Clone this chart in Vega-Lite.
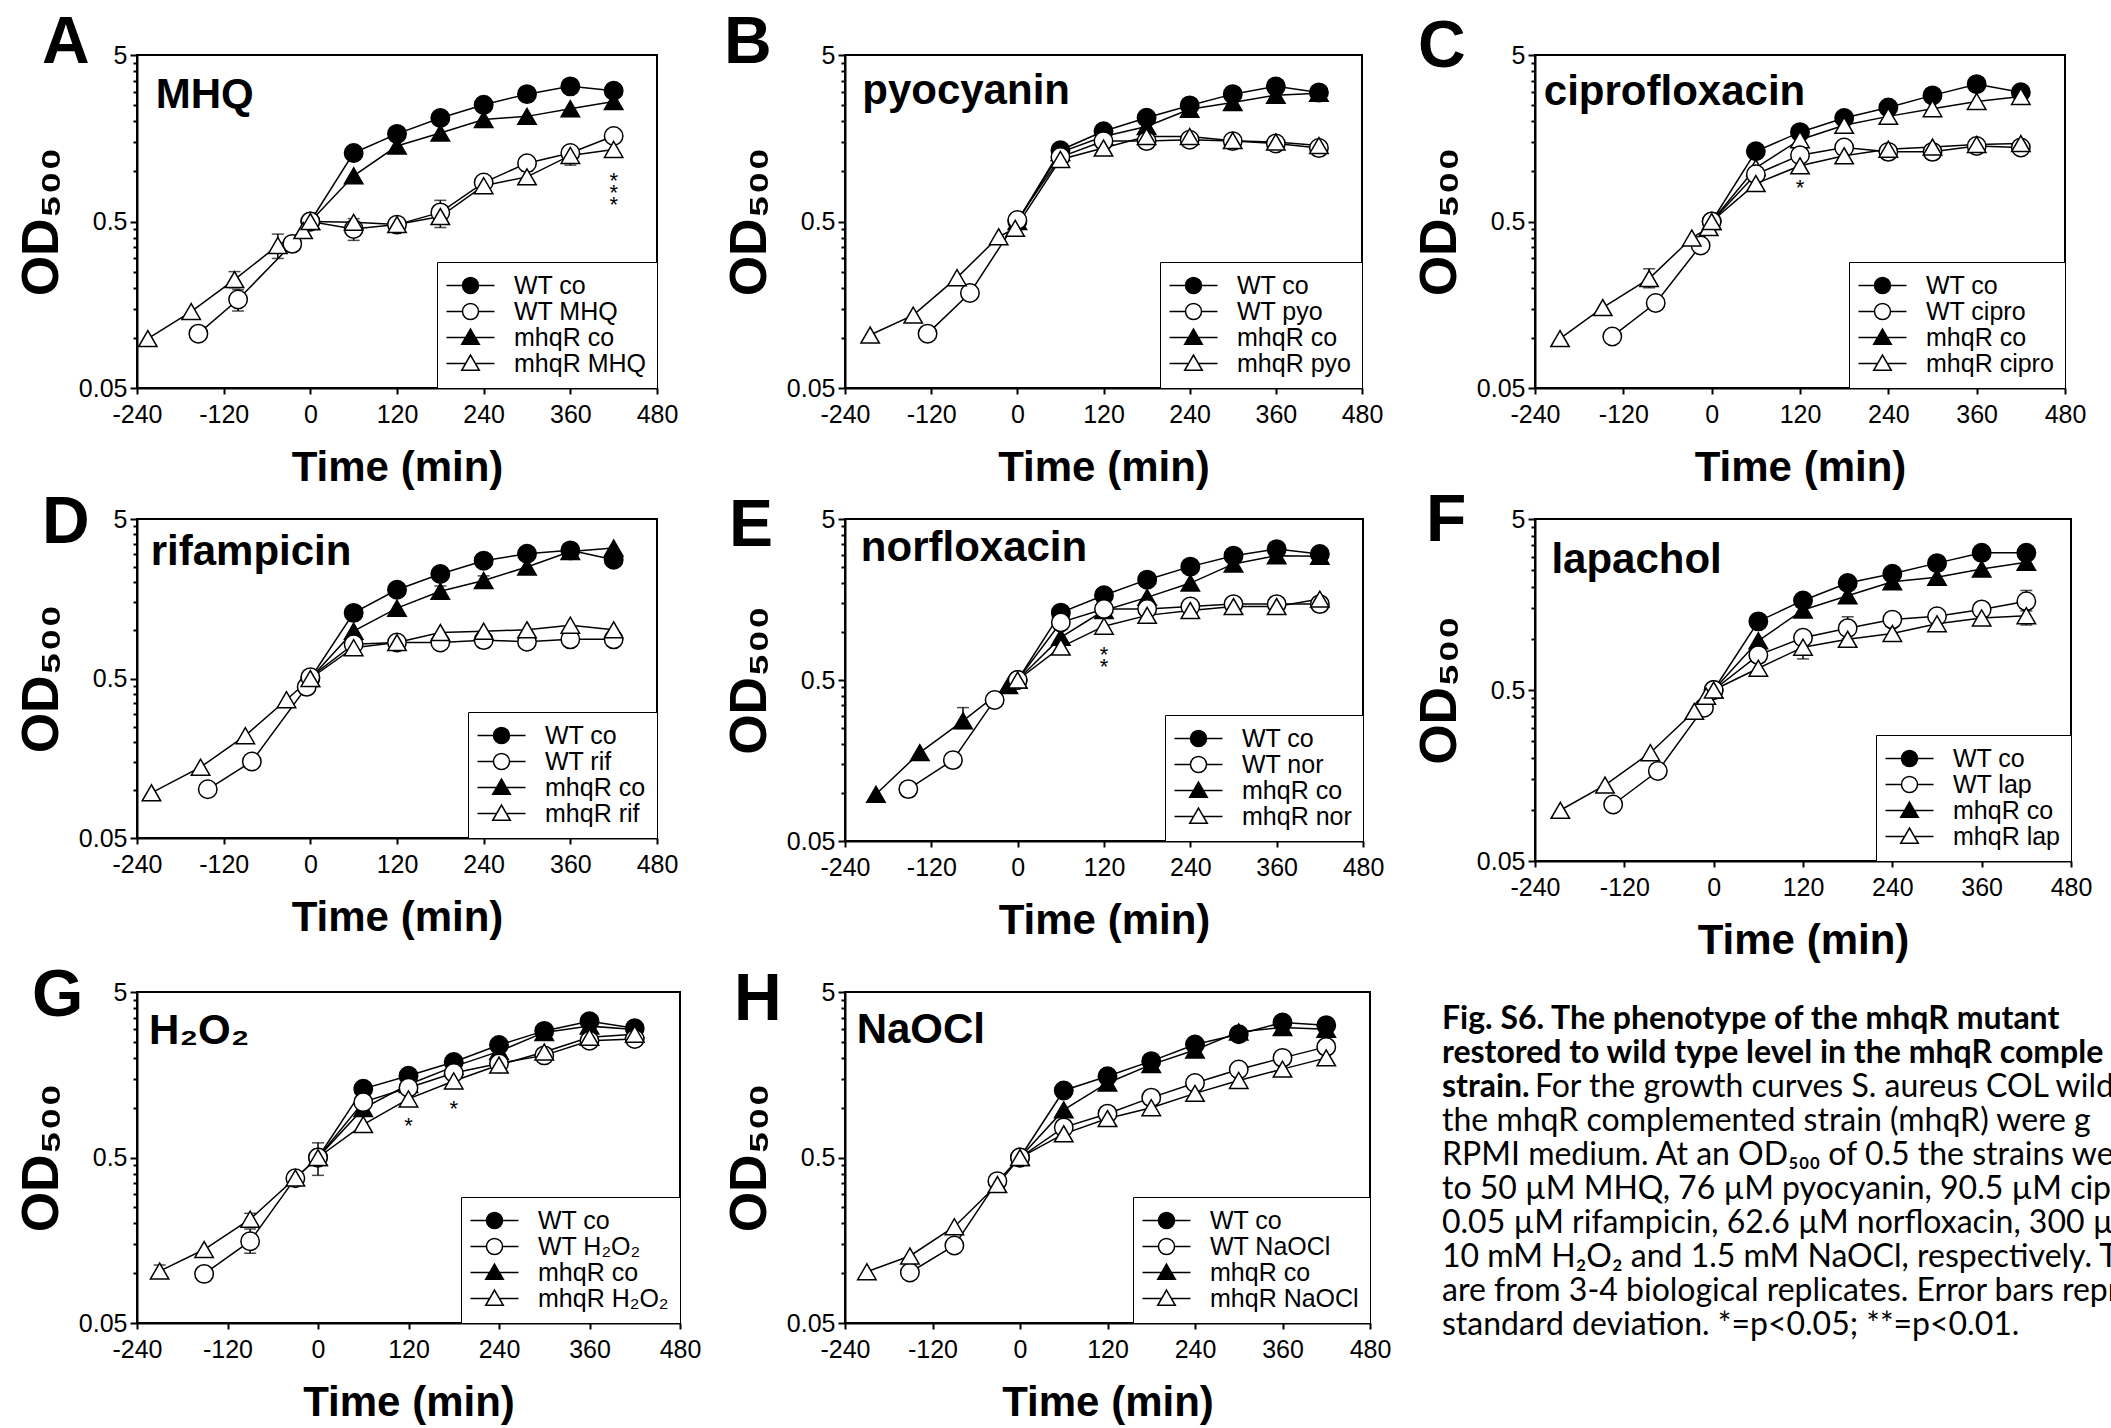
{
"$schema": "https://vega.github.io/schema/vega-lite/v6.json",
"background": "white",
"padding": {"left": 14, "top": 9, "right": 5, "bottom": 5},
"datasets": {
"curves": [
{"p":"A","s":"WT co","t":0,"od":0.5},{"p":"A","s":"WT co","t":60,"od":1.29},{"p":"A","s":"WT co","t":120,"od":1.68},{"p":"A","s":"WT co","t":180,"od":2.09},{"p":"A","s":"WT co","t":240,"od":2.51},{"p":"A","s":"WT co","t":300,"od":2.91},{"p":"A","s":"WT co","t":360,"od":3.24},{"p":"A","s":"WT co","t":420,"od":3.05},
{"p":"A","s":"mhqR co","t":0,"od":0.5},{"p":"A","s":"mhqR co","t":60,"od":0.94},{"p":"A","s":"mhqR co","t":120,"od":1.42},{"p":"A","s":"mhqR co","t":180,"od":1.70},{"p":"A","s":"mhqR co","t":240,"od":2.05},{"p":"A","s":"mhqR co","t":300,"od":2.14},{"p":"A","s":"mhqR co","t":360,"od":2.38},{"p":"A","s":"mhqR co","t":420,"od":2.63},
{"p":"A","s":"WT MHQ","t":-155,"od":0.106},{"p":"A","s":"WT MHQ","t":-100,"od":0.17},{"p":"A","s":"WT MHQ","t":-25,"od":0.367},{"p":"A","s":"WT MHQ","t":0,"od":0.5},{"p":"A","s":"WT MHQ","t":60,"od":0.451},{"p":"A","s":"WT MHQ","t":120,"od":0.479},{"p":"A","s":"WT MHQ","t":180,"od":0.567},{"p":"A","s":"WT MHQ","t":240,"od":0.857},{"p":"A","s":"WT MHQ","t":300,"od":1.12},{"p":"A","s":"WT MHQ","t":360,"od":1.29},{"p":"A","s":"WT MHQ","t":420,"od":1.63},
{"p":"A","s":"mhqR MHQ","t":-225,"od":0.099},{"p":"A","s":"mhqR MHQ","t":-165,"od":0.144},{"p":"A","s":"mhqR MHQ","t":-105,"od":0.224},{"p":"A","s":"mhqR MHQ","t":-45,"od":0.359},{"p":"A","s":"mhqR MHQ","t":-10,"od":0.441},{"p":"A","s":"mhqR MHQ","t":0,"od":0.5},{"p":"A","s":"mhqR MHQ","t":60,"od":0.494},{"p":"A","s":"mhqR MHQ","t":120,"od":0.479},{"p":"A","s":"mhqR MHQ","t":180,"od":0.535},{"p":"A","s":"mhqR MHQ","t":240,"od":0.82},{"p":"A","s":"mhqR MHQ","t":300,"od":0.927},{"p":"A","s":"mhqR MHQ","t":360,"od":1.247},{"p":"A","s":"mhqR MHQ","t":420,"od":1.355},

{"p":"B","s":"WT co","t":0,"od":0.5},{"p":"B","s":"WT co","t":60,"od":1.34},{"p":"B","s":"WT co","t":120,"od":1.74},{"p":"B","s":"WT co","t":180,"od":2.10},{"p":"B","s":"WT co","t":240,"od":2.49},{"p":"B","s":"WT co","t":300,"od":2.91},{"p":"B","s":"WT co","t":360,"od":3.24},{"p":"B","s":"WT co","t":420,"od":2.98},
{"p":"B","s":"mhqR co","t":0,"od":0.5},{"p":"B","s":"mhqR co","t":60,"od":1.30},{"p":"B","s":"mhqR co","t":120,"od":1.62},{"p":"B","s":"mhqR co","t":180,"od":1.86},{"p":"B","s":"mhqR co","t":240,"od":2.36},{"p":"B","s":"mhqR co","t":300,"od":2.59},{"p":"B","s":"mhqR co","t":360,"od":2.87},{"p":"B","s":"mhqR co","t":420,"od":2.95},
{"p":"B","s":"WT pyo","t":-125,"od":0.106},{"p":"B","s":"WT pyo","t":-66,"od":0.186},{"p":"B","s":"WT pyo","t":0,"od":0.51},{"p":"B","s":"WT pyo","t":60,"od":1.22},{"p":"B","s":"WT pyo","t":120,"od":1.52},{"p":"B","s":"WT pyo","t":180,"od":1.52},{"p":"B","s":"WT pyo","t":240,"od":1.55},{"p":"B","s":"WT pyo","t":300,"od":1.52},{"p":"B","s":"WT pyo","t":360,"od":1.47},{"p":"B","s":"WT pyo","t":420,"od":1.38},
{"p":"B","s":"mhqR pyo","t":-205,"od":0.104},{"p":"B","s":"mhqR pyo","t":-145,"od":0.137},{"p":"B","s":"mhqR pyo","t":-84,"od":0.23},{"p":"B","s":"mhqR pyo","t":-26,"od":0.405},{"p":"B","s":"mhqR pyo","t":-3,"od":0.455},{"p":"B","s":"mhqR pyo","t":60,"od":1.18},{"p":"B","s":"mhqR pyo","t":120,"od":1.38},{"p":"B","s":"mhqR pyo","t":180,"od":1.62},{"p":"B","s":"mhqR pyo","t":240,"od":1.62},{"p":"B","s":"mhqR pyo","t":300,"od":1.53},{"p":"B","s":"mhqR pyo","t":360,"od":1.50},{"p":"B","s":"mhqR pyo","t":420,"od":1.43},

{"p":"C","s":"WT co","t":0,"od":0.5},{"p":"C","s":"WT co","t":60,"od":1.32},{"p":"C","s":"WT co","t":120,"od":1.72},{"p":"C","s":"WT co","t":180,"od":2.09},{"p":"C","s":"WT co","t":240,"od":2.42},{"p":"C","s":"WT co","t":300,"od":2.86},{"p":"C","s":"WT co","t":360,"od":3.34},{"p":"C","s":"WT co","t":420,"od":2.99},
{"p":"C","s":"mhqR co","t":0,"od":0.5},{"p":"C","s":"mhqR co","t":60,"od":1.05},{"p":"C","s":"mhqR co","t":120,"od":1.55},{"p":"C","s":"mhqR co","t":180,"od":1.89},{"p":"C","s":"mhqR co","t":240,"od":2.14},{"p":"C","s":"mhqR co","t":300,"od":2.38},{"p":"C","s":"mhqR co","t":360,"od":2.63},{"p":"C","s":"mhqR co","t":420,"od":2.82},
{"p":"C","s":"WT cipro","t":-135,"od":0.102},{"p":"C","s":"WT cipro","t":-76,"od":0.162},{"p":"C","s":"WT cipro","t":-15,"od":0.359},{"p":"C","s":"WT cipro","t":0,"od":0.5},{"p":"C","s":"WT cipro","t":60,"od":0.96},{"p":"C","s":"WT cipro","t":120,"od":1.25},{"p":"C","s":"WT cipro","t":180,"od":1.39},{"p":"C","s":"WT cipro","t":240,"od":1.31},{"p":"C","s":"WT cipro","t":300,"od":1.31},{"p":"C","s":"WT cipro","t":360,"od":1.42},{"p":"C","s":"WT cipro","t":420,"od":1.39},
{"p":"C","s":"mhqR cipro","t":-206,"od":0.099},{"p":"C","s":"mhqR cipro","t":-148,"od":0.152},{"p":"C","s":"mhqR cipro","t":-85,"od":0.227},{"p":"C","s":"mhqR cipro","t":-27,"od":0.398},{"p":"C","s":"mhqR cipro","t":-4,"od":0.46},{"p":"C","s":"mhqR cipro","t":0,"od":0.5},{"p":"C","s":"mhqR cipro","t":60,"od":0.845},{"p":"C","s":"mhqR cipro","t":120,"od":1.08},{"p":"C","s":"mhqR cipro","t":180,"od":1.24},{"p":"C","s":"mhqR cipro","t":240,"od":1.36},{"p":"C","s":"mhqR cipro","t":300,"od":1.40},{"p":"C","s":"mhqR cipro","t":360,"od":1.45},{"p":"C","s":"mhqR cipro","t":420,"od":1.47},

{"p":"D","s":"WT co","t":0,"od":0.5},{"p":"D","s":"WT co","t":60,"od":1.29},{"p":"D","s":"WT co","t":120,"od":1.80},{"p":"D","s":"WT co","t":180,"od":2.26},{"p":"D","s":"WT co","t":240,"od":2.74},{"p":"D","s":"WT co","t":300,"od":3.03},{"p":"D","s":"WT co","t":360,"od":3.18},{"p":"D","s":"WT co","t":420,"od":2.78},
{"p":"D","s":"mhqR co","t":0,"od":0.5},{"p":"D","s":"mhqR co","t":60,"od":0.99},{"p":"D","s":"mhqR co","t":120,"od":1.38},{"p":"D","s":"mhqR co","t":180,"od":1.76},{"p":"D","s":"mhqR co","t":240,"od":2.06},{"p":"D","s":"mhqR co","t":300,"od":2.5},{"p":"D","s":"mhqR co","t":360,"od":3.13},{"p":"D","s":"mhqR co","t":420,"od":3.29},
{"p":"D","s":"WT rif","t":-142,"od":0.101},{"p":"D","s":"WT rif","t":-81,"od":0.151},{"p":"D","s":"WT rif","t":-5,"od":0.443},{"p":"D","s":"WT rif","t":0,"od":0.51},{"p":"D","s":"WT rif","t":60,"od":0.82},{"p":"D","s":"WT rif","t":120,"od":0.84},{"p":"D","s":"WT rif","t":180,"od":0.84},{"p":"D","s":"WT rif","t":240,"od":0.87},{"p":"D","s":"WT rif","t":300,"od":0.85},{"p":"D","s":"WT rif","t":360,"od":0.88},{"p":"D","s":"WT rif","t":420,"od":0.88},
{"p":"D","s":"mhqR rif","t":-220,"od":0.096},{"p":"D","s":"mhqR rif","t":-152,"od":0.139},{"p":"D","s":"mhqR rif","t":-90,"od":0.219},{"p":"D","s":"mhqR rif","t":-33,"od":0.368},{"p":"D","s":"mhqR rif","t":0,"od":0.5},{"p":"D","s":"mhqR rif","t":60,"od":0.78},{"p":"D","s":"mhqR rif","t":120,"od":0.84},{"p":"D","s":"mhqR rif","t":180,"od":0.97},{"p":"D","s":"mhqR rif","t":240,"od":0.99},{"p":"D","s":"mhqR rif","t":300,"od":1.01},{"p":"D","s":"mhqR rif","t":360,"od":1.08},{"p":"D","s":"mhqR rif","t":420,"od":1.01},

{"p":"E","s":"WT co","t":0,"od":0.5},{"p":"E","s":"WT co","t":60,"od":1.31},{"p":"E","s":"WT co","t":120,"od":1.68},{"p":"E","s":"WT co","t":180,"od":2.10},{"p":"E","s":"WT co","t":240,"od":2.53},{"p":"E","s":"WT co","t":300,"od":2.96},{"p":"E","s":"WT co","t":360,"od":3.25},{"p":"E","s":"WT co","t":420,"od":3.03},
{"p":"E","s":"mhqR co","t":-197,"od":0.0975},{"p":"E","s":"mhqR co","t":-136,"od":0.177},{"p":"E","s":"mhqR co","t":-76,"od":0.279},{"p":"E","s":"mhqR co","t":-13,"od":0.462},{"p":"E","s":"mhqR co","t":0,"od":0.5},{"p":"E","s":"mhqR co","t":60,"od":0.92},{"p":"E","s":"mhqR co","t":120,"od":1.35},{"p":"E","s":"mhqR co","t":180,"od":1.63},{"p":"E","s":"mhqR co","t":240,"od":2.0},{"p":"E","s":"mhqR co","t":300,"od":2.63},{"p":"E","s":"mhqR co","t":360,"od":2.96},{"p":"E","s":"mhqR co","t":420,"od":2.93},
{"p":"E","s":"WT nor","t":-152,"od":0.105},{"p":"E","s":"WT nor","t":-90,"od":0.159},{"p":"E","s":"WT nor","t":-32,"od":0.376},{"p":"E","s":"WT nor","t":0,"od":0.5},{"p":"E","s":"WT nor","t":60,"od":1.14},{"p":"E","s":"WT nor","t":120,"od":1.38},{"p":"E","s":"WT nor","t":180,"od":1.38},{"p":"E","s":"WT nor","t":240,"od":1.43},{"p":"E","s":"WT nor","t":300,"od":1.48},{"p":"E","s":"WT nor","t":360,"od":1.48},{"p":"E","s":"WT nor","t":420,"od":1.48},
{"p":"E","s":"mhqR nor","t":0,"od":0.5},{"p":"E","s":"mhqR nor","t":60,"od":0.80},{"p":"E","s":"mhqR nor","t":120,"od":1.08},{"p":"E","s":"mhqR nor","t":180,"od":1.26},{"p":"E","s":"mhqR nor","t":240,"od":1.35},{"p":"E","s":"mhqR nor","t":300,"od":1.43},{"p":"E","s":"mhqR nor","t":360,"od":1.43},{"p":"E","s":"mhqR nor","t":420,"od":1.59},

{"p":"F","s":"WT co","t":0,"od":0.5},{"p":"F","s":"WT co","t":60,"od":1.26},{"p":"F","s":"WT co","t":120,"od":1.67},{"p":"F","s":"WT co","t":180,"od":2.11},{"p":"F","s":"WT co","t":240,"od":2.39},{"p":"F","s":"WT co","t":300,"od":2.76},{"p":"F","s":"WT co","t":360,"od":3.17},{"p":"F","s":"WT co","t":420,"od":3.17},
{"p":"F","s":"mhqR co","t":0,"od":0.5},{"p":"F","s":"mhqR co","t":60,"od":0.97},{"p":"F","s":"mhqR co","t":120,"od":1.47},{"p":"F","s":"mhqR co","t":180,"od":1.78},{"p":"F","s":"mhqR co","t":240,"od":2.15},{"p":"F","s":"mhqR co","t":300,"od":2.28},{"p":"F","s":"mhqR co","t":360,"od":2.55},{"p":"F","s":"mhqR co","t":420,"od":2.79},
{"p":"F","s":"WT lap","t":-135,"od":0.107},{"p":"F","s":"WT lap","t":-75,"od":0.168},{"p":"F","s":"WT lap","t":-13,"od":0.394},{"p":"F","s":"WT lap","t":0,"od":0.5},{"p":"F","s":"WT lap","t":60,"od":0.80},{"p":"F","s":"WT lap","t":120,"od":1.01},{"p":"F","s":"WT lap","t":180,"od":1.15},{"p":"F","s":"WT lap","t":240,"od":1.29},{"p":"F","s":"WT lap","t":300,"od":1.35},{"p":"F","s":"WT lap","t":360,"od":1.48},{"p":"F","s":"WT lap","t":420,"od":1.65},
{"p":"F","s":"mhqR lap","t":-206,"od":0.099},{"p":"F","s":"mhqR lap","t":-146,"od":0.139},{"p":"F","s":"mhqR lap","t":-85,"od":0.215},{"p":"F","s":"mhqR lap","t":-26,"od":0.375},{"p":"F","s":"mhqR lap","t":-10,"od":0.46},{"p":"F","s":"mhqR lap","t":0,"od":0.5},{"p":"F","s":"mhqR lap","t":60,"od":0.67},{"p":"F","s":"mhqR lap","t":120,"od":0.89},{"p":"F","s":"mhqR lap","t":180,"od":0.99},{"p":"F","s":"mhqR lap","t":240,"od":1.07},{"p":"F","s":"mhqR lap","t":300,"od":1.22},{"p":"F","s":"mhqR lap","t":360,"od":1.32},{"p":"F","s":"mhqR lap","t":420,"od":1.36},

{"p":"G","s":"WT co","t":0,"od":0.5},{"p":"G","s":"WT co","t":60,"od":1.30},{"p":"G","s":"WT co","t":120,"od":1.56},{"p":"G","s":"WT co","t":180,"od":1.89},{"p":"G","s":"WT co","t":240,"od":2.39},{"p":"G","s":"WT co","t":300,"od":2.91},{"p":"G","s":"WT co","t":360,"od":3.33},{"p":"G","s":"WT co","t":420,"od":3.02},
{"p":"G","s":"mhqR co","t":0,"od":0.5},{"p":"G","s":"mhqR co","t":60,"od":0.99},{"p":"G","s":"mhqR co","t":120,"od":1.38},{"p":"G","s":"mhqR co","t":180,"od":1.77},{"p":"G","s":"mhqR co","t":240,"od":2.19},{"p":"G","s":"mhqR co","t":300,"od":2.85},{"p":"G","s":"mhqR co","t":360,"od":3.11},{"p":"G","s":"mhqR co","t":420,"od":2.97},
{"p":"G","s":"WT H₂O₂","t":-151,"od":0.099},{"p":"G","s":"WT H₂O₂","t":-90,"od":0.156},{"p":"G","s":"WT H₂O₂","t":-30,"od":0.375},{"p":"G","s":"WT H₂O₂","t":0,"od":0.5},{"p":"G","s":"WT H₂O₂","t":60,"od":1.08},{"p":"G","s":"WT H₂O₂","t":120,"od":1.32},{"p":"G","s":"WT H₂O₂","t":180,"od":1.62},{"p":"G","s":"WT H₂O₂","t":240,"od":1.85},{"p":"G","s":"WT H₂O₂","t":300,"od":2.07},{"p":"G","s":"WT H₂O₂","t":360,"od":2.54},{"p":"G","s":"WT H₂O₂","t":420,"od":2.60},
{"p":"G","s":"mhqR H₂O₂","t":-210,"od":0.103},{"p":"G","s":"mhqR H₂O₂","t":-151,"od":0.139},{"p":"G","s":"mhqR H₂O₂","t":-90,"od":0.212},{"p":"G","s":"mhqR H₂O₂","t":-30,"od":0.376},{"p":"G","s":"mhqR H₂O₂","t":0,"od":0.5},{"p":"G","s":"mhqR H₂O₂","t":60,"od":0.79},{"p":"G","s":"mhqR H₂O₂","t":120,"od":1.13},{"p":"G","s":"mhqR H₂O₂","t":180,"od":1.45},{"p":"G","s":"mhqR H₂O₂","t":240,"od":1.81},{"p":"G","s":"mhqR H₂O₂","t":300,"od":2.17},{"p":"G","s":"mhqR H₂O₂","t":360,"od":2.66},{"p":"G","s":"mhqR H₂O₂","t":420,"od":2.78},

{"p":"H","s":"WT co","t":0,"od":0.5},{"p":"H","s":"WT co","t":60,"od":1.27},{"p":"H","s":"WT co","t":120,"od":1.55},{"p":"H","s":"WT co","t":180,"od":1.91},{"p":"H","s":"WT co","t":240,"od":2.41},{"p":"H","s":"WT co","t":300,"od":2.78},{"p":"H","s":"WT co","t":360,"od":3.27},{"p":"H","s":"WT co","t":420,"od":3.15},
{"p":"H","s":"mhqR co","t":0,"od":0.5},{"p":"H","s":"mhqR co","t":60,"od":0.97},{"p":"H","s":"mhqR co","t":120,"od":1.41},{"p":"H","s":"mhqR co","t":180,"od":1.82},{"p":"H","s":"mhqR co","t":240,"od":2.23},{"p":"H","s":"mhqR co","t":300,"od":2.87},{"p":"H","s":"mhqR co","t":360,"od":3.05},{"p":"H","s":"mhqR co","t":420,"od":2.98},
{"p":"H","s":"WT NaOCl","t":-151,"od":0.101},{"p":"H","s":"WT NaOCl","t":-90,"od":0.147},{"p":"H","s":"WT NaOCl","t":-31,"od":0.36},{"p":"H","s":"WT NaOCl","t":0,"od":0.5},{"p":"H","s":"WT NaOCl","t":60,"od":0.76},{"p":"H","s":"WT NaOCl","t":120,"od":0.92},{"p":"H","s":"WT NaOCl","t":180,"od":1.15},{"p":"H","s":"WT NaOCl","t":240,"od":1.41},{"p":"H","s":"WT NaOCl","t":300,"od":1.70},{"p":"H","s":"WT NaOCl","t":360,"od":2.0},{"p":"H","s":"WT NaOCl","t":420,"od":2.33},
{"p":"H","s":"mhqR NaOCl","t":-210,"od":0.102},{"p":"H","s":"mhqR NaOCl","t":-151,"od":0.127},{"p":"H","s":"mhqR NaOCl","t":-90,"od":0.191},{"p":"H","s":"mhqR NaOCl","t":-31,"od":0.343},{"p":"H","s":"mhqR NaOCl","t":0,"od":0.5},{"p":"H","s":"mhqR NaOCl","t":60,"od":0.695},{"p":"H","s":"mhqR NaOCl","t":120,"od":0.86},{"p":"H","s":"mhqR NaOCl","t":180,"od":1.0},{"p":"H","s":"mhqR NaOCl","t":240,"od":1.22},{"p":"H","s":"mhqR NaOCl","t":300,"od":1.46},{"p":"H","s":"mhqR NaOCl","t":360,"od":1.71},{"p":"H","s":"mhqR NaOCl","t":420,"od":2.0}
],
"err": [
{"p":"A","s":"WT MHQ","t":-100,"lo":0.145,"hi":0.195},
{"p":"A","s":"mhqR MHQ","t":-105,"lo":0.2,"hi":0.25},
{"p":"A","s":"mhqR MHQ","t":-45,"lo":0.30,"hi":0.42},
{"p":"A","s":"WT MHQ","t":60,"lo":0.385,"hi":0.52},
{"p":"A","s":"WT MHQ","t":120,"lo":0.45,"hi":0.5},
{"p":"A","s":"WT MHQ","t":180,"lo":0.46,"hi":0.67},
{"p":"A","s":"mhqR MHQ","t":300,"lo":0.84,"hi":1.0},
{"p":"A","s":"mhqR MHQ","t":360,"lo":1.09,"hi":1.40},
{"p":"C","s":"mhqR cipro","t":-85,"lo":0.2,"hi":0.26},
{"p":"D","s":"mhqR co","t":180,"lo":1.6,"hi":1.9},
{"p":"D","s":"mhqR co","t":240,"lo":1.9,"hi":2.2},
{"p":"E","s":"mhqR co","t":-76,"lo":0.25,"hi":0.337},
{"p":"F","s":"WT lap","t":420,"lo":1.45,"hi":1.91},
{"p":"F","s":"mhqR lap","t":420,"lo":1.2,"hi":1.5},
{"p":"F","s":"WT lap","t":180,"lo":1.0,"hi":1.34},
{"p":"F","s":"mhqR lap","t":120,"lo":0.76,"hi":0.95},
{"p":"G","s":"mhqR H₂O₂","t":0,"lo":0.39,"hi":0.613},
{"p":"G","s":"WT H₂O₂","t":-90,"lo":0.132,"hi":0.185},
{"p":"G","s":"mhqR H₂O₂","t":-90,"lo":0.19,"hi":0.23},
{"p":"G","s":"mhqR H₂O₂","t":-210,"lo":0.095,"hi":0.112}
],
"stars": [
{"p":"A","t":420,"od":0.88,"txt":"*\n*\n*"},
{"p":"C","t":120,"od":0.80,"txt":"*"},
{"p":"E","t":120,"od":0.71,"txt":"*\n*"},
{"p":"G","t":120,"od":0.78,"txt":"*"},
{"p":"G","t":180,"od":0.98,"txt":"*"}
],
"names": [
{"p":"A","name":"MHQ","t":-214,"od":2.4},{"p":"B","name":"pyocyanin","t":-216,"od":2.54},{"p":"C","name":"ciprofloxacin","t":-228,"od":2.5},{"p":"D","name":"rifampicin","t":-221,"od":2.58},{"p":"E","name":"norfloxacin","t":-218,"od":2.74},{"p":"F","name":"lapachol","t":-218,"od":2.42},{"p":"G","name":"H₂O₂","t":-224,"od":2.44},{"p":"H","name":"NaOCl","t":-224,"od":2.47}
],
"caption": [
{"line":1,"seg":1,"text":"Fig. S6. The phenotype of the mhqR mutant"},
{"line":2,"seg":1,"text":"restored to wild type level in the mhqR comple"},
{"line":3,"seg":1,"text":"strain."},
{"line":3,"seg":2,"text":"For the growth curves S. aureus COL wild t"},
{"line":4,"seg":1,"text":"the mhqR complemented strain (mhqR) were g"},
{"line":5,"seg":1,"text":"RPMI medium. At an OD₅₀₀ of 0.5 the strains were"},
{"line":6,"seg":1,"text":"to 50 µM MHQ, 76 µM pyocyanin, 90.5 µM ciprof"},
{"line":7,"seg":1,"text":"0.05 µM rifampicin, 62.6 µM norfloxacin, 300 µM la"},
{"line":8,"seg":1,"text":"10 mM H₂O₂ and 1.5 mM NaOCl, respectively. The"},
{"line":9,"seg":1,"text":"are from 3-4 biological replicates. Error bars repres"},
{"line":10,"seg":1,"text":"standard deviation. *=p<0.05; **=p<0.01."}
]
},
"config": {
"view": {"stroke": "black", "strokeWidth": 2},
"font": "Liberation Sans",
"axis": {"domainColor": "black", "domainWidth": 2, "tickColor": "black", "tickWidth": 2, "labelFont": "Liberation Sans", "labelFontSize": 25, "labelColor": "black", "titleFont": "Liberation Sans, Roboto, Noto Sans", "titleFontWeight": "bold", "titleColor": "black", "grid": false, "labelOverlap": false, "labelFlush": false, "labelBound": false},
"axisX": {"tickSize": 6, "labelPadding": 8, "titleFontSize": 42, "titlePadding": 20, "labelExpr": "datum.value < 0 ? '-' + (-datum.value) : '' + datum.value"},
"axisY": {"labelPadding": 3, "titleFontSize": 52, "titlePadding": 10},
"legend": {"orient": "bottom-right", "offset": 0, "padding": 11, "strokeColor": "black", "fillColor": "white", "labelFont": "Liberation Sans", "labelFontSize": 25, "labelColor": "black", "rowPadding": 0, "symbolSize": 256, "symbolOffset": 10, "symbolStrokeWidth": 1.5, "symbolOpacity": 1, "labelOffset": 31, "labelLimit": 400},
"point": {"filled": true, "stroke": "black", "strokeWidth": 1.5, "size": 340, "opacity": 1},
"title": {"anchor": "start", "frame": "group", "offset": 0, "baseline": "alphabetic", "fontSize": 66, "font": "Liberation Sans", "fontWeight": "bold", "color": "black"}
},
"columns": 3,
"spacing": {"row": 131, "column": 165},
"bounds": "flush",
"align": "each",
"resolve": {"scale": {"x": "independent", "y": "independent", "shape": "independent", "fill": "independent"}, "axis": {"x": "independent", "y": "independent"}, "legend": {"shape": "independent", "fill": "independent"}},
"concat": [
{"width": 520, "height": 333, "title": {"text": "A", "dx": -95, "dy": 38},
 "encoding": {"x": {"field": "t", "type": "quantitative", "scale": {"domain": [-240, 480], "nice": false, "zero": false}, "axis": {"title": "Time (min)", "values": [-240, -120, 0, 120, 240, 360, 480]}},
  "y": {"field": "od", "type": "quantitative", "scale": {"type": "log", "domain": [0.05, 5], "nice": false}, "axis": {"title": "OD₅₀₀", "values": [0.05,0.1,0.15,0.2,0.25,0.3,0.35,0.4,0.45,0.5,1,1.5,2,2.5,3,3.5,4,4.5,5], "labelExpr": "datum.value == 0.05 ? '0.05' : datum.value == 0.5 ? '0.5' : datum.value == 5 ? '5' : ''", "tickSize": {"condition": {"test": "datum.value == 0.05 || datum.value == 0.5 || datum.value == 5", "value": 7}, "value": 4}}}},
 "layer": [
  {"data": {"name": "err"}, "transform": [{"filter": "datum.p == 'A'"}], "mark": {"type": "errorbar", "ticks": {"size": 12, "thickness": 1.5, "color": "black"}, "rule": {"strokeWidth": 1.5, "color": "black"}}, "encoding": {"x": {"field": "t", "type": "quantitative"}, "y": {"field": "lo", "type": "quantitative"}, "y2": {"field": "hi"}}},
  {"data": {"name": "curves"}, "transform": [{"filter": "datum.p == 'A'"}], "mark": {"type": "line", "color": "black", "strokeWidth": 1.5}, "encoding": {"detail": {"field": "s"}}},
  {"data": {"name": "curves"}, "transform": [{"filter": "datum.p == 'A' && datum.s == 'WT co'"}], "mark": {"type": "point", "shape": "circle", "fill": "black"}},
  {"data": {"name": "curves"}, "transform": [{"filter": "datum.p == 'A' && datum.s == 'mhqR co'"}], "mark": {"type": "point", "shape": "triangle-up", "fill": "black"}},
  {"data": {"name": "curves"}, "transform": [{"filter": "datum.p == 'A' && datum.s != 'WT co' && indexof(datum.s, 'WT') == 0"}], "mark": {"type": "point", "shape": "circle", "fill": "white"}},
  {"data": {"name": "curves"}, "transform": [{"filter": "datum.p == 'A' && datum.s != 'mhqR co' && indexof(datum.s, 'mhqR') == 0"}], "mark": {"type": "point", "shape": "triangle-up", "fill": "white"}},
  {"data": {"name": "curves"}, "transform": [{"filter": "false"}], "mark": {"type": "point"},
   "encoding": {"shape": {"field": "s", "type": "nominal", "scale": {"domain": ["WT co", "WT MHQ", "mhqR co", "mhqR MHQ"], "range": ["M-3,0L-1,0M1,0L3,0M1,0A1,1,0,1,1,-1,0A1,1,0,1,1,1,0Z", "M-3,0L-1,0M1,0L3,0M1,0A1,1,0,1,1,-1,0A1,1,0,1,1,1,0Z", "M-3,0L-0.61,0M0.61,0L3,0M0,-1.05L1.1,0.85L-1.1,0.85Z", "M-3,0L-0.61,0M0.61,0L3,0M0,-1.05L1.1,0.85L-1.1,0.85Z"]}, "legend": {"title": null}},
    "fill": {"field": "s", "type": "nominal", "scale": {"domain": ["WT co", "WT MHQ", "mhqR co", "mhqR MHQ"], "range": ["black", "white", "black", "white"]}, "legend": null}}},
  {"data": {"name": "names"}, "transform": [{"filter": "datum.p == 'A'"}], "mark": {"type": "text", "align": "left", "baseline": "alphabetic", "font": "Liberation Sans", "fontWeight": "bold", "fontSize": 42, "color": "black"}, "encoding": {"text": {"field": "name"}}},
  {"data": {"name": "stars"}, "transform": [{"filter": "datum.p == 'A'"}], "mark": {"type": "text", "font": "Liberation Sans", "fontSize": 22, "lineBreak": "\n", "lineHeight": 12, "baseline": "middle", "color": "black"}, "encoding": {"text": {"field": "txt"}}}
 ]},
{"width": 517, "height": 333, "title": {"text": "B", "dx": -121, "dy": 38},
 "encoding": {"x": {"field": "t", "type": "quantitative", "scale": {"domain": [-240, 480], "nice": false, "zero": false}, "axis": {"title": "Time (min)", "values": [-240, -120, 0, 120, 240, 360, 480]}},
  "y": {"field": "od", "type": "quantitative", "scale": {"type": "log", "domain": [0.05, 5], "nice": false}, "axis": {"title": "OD₅₀₀", "values": [0.05,0.1,0.15,0.2,0.25,0.3,0.35,0.4,0.45,0.5,1,1.5,2,2.5,3,3.5,4,4.5,5], "labelExpr": "datum.value == 0.05 ? '0.05' : datum.value == 0.5 ? '0.5' : datum.value == 5 ? '5' : ''", "tickSize": {"condition": {"test": "datum.value == 0.05 || datum.value == 0.5 || datum.value == 5", "value": 7}, "value": 4}}}},
 "layer": [
  {"data": {"name": "err"}, "transform": [{"filter": "datum.p == 'B'"}], "mark": {"type": "errorbar", "ticks": {"size": 12, "thickness": 1.5, "color": "black"}, "rule": {"strokeWidth": 1.5, "color": "black"}}, "encoding": {"x": {"field": "t", "type": "quantitative"}, "y": {"field": "lo", "type": "quantitative"}, "y2": {"field": "hi"}}},
  {"data": {"name": "curves"}, "transform": [{"filter": "datum.p == 'B'"}], "mark": {"type": "line", "color": "black", "strokeWidth": 1.5}, "encoding": {"detail": {"field": "s"}}},
  {"data": {"name": "curves"}, "transform": [{"filter": "datum.p == 'B' && datum.s == 'WT co'"}], "mark": {"type": "point", "shape": "circle", "fill": "black"}},
  {"data": {"name": "curves"}, "transform": [{"filter": "datum.p == 'B' && datum.s == 'mhqR co'"}], "mark": {"type": "point", "shape": "triangle-up", "fill": "black"}},
  {"data": {"name": "curves"}, "transform": [{"filter": "datum.p == 'B' && datum.s != 'WT co' && indexof(datum.s, 'WT') == 0"}], "mark": {"type": "point", "shape": "circle", "fill": "white"}},
  {"data": {"name": "curves"}, "transform": [{"filter": "datum.p == 'B' && datum.s != 'mhqR co' && indexof(datum.s, 'mhqR') == 0"}], "mark": {"type": "point", "shape": "triangle-up", "fill": "white"}},
  {"data": {"name": "curves"}, "transform": [{"filter": "false"}], "mark": {"type": "point"},
   "encoding": {"shape": {"field": "s", "type": "nominal", "scale": {"domain": ["WT co", "WT pyo", "mhqR co", "mhqR pyo"], "range": ["M-3,0L-1,0M1,0L3,0M1,0A1,1,0,1,1,-1,0A1,1,0,1,1,1,0Z", "M-3,0L-1,0M1,0L3,0M1,0A1,1,0,1,1,-1,0A1,1,0,1,1,1,0Z", "M-3,0L-0.61,0M0.61,0L3,0M0,-1.05L1.1,0.85L-1.1,0.85Z", "M-3,0L-0.61,0M0.61,0L3,0M0,-1.05L1.1,0.85L-1.1,0.85Z"]}, "legend": {"title": null}},
    "fill": {"field": "s", "type": "nominal", "scale": {"domain": ["WT co", "WT pyo", "mhqR co", "mhqR pyo"], "range": ["black", "white", "black", "white"]}, "legend": null}}},
  {"data": {"name": "names"}, "transform": [{"filter": "datum.p == 'B'"}], "mark": {"type": "text", "align": "left", "baseline": "alphabetic", "font": "Liberation Sans", "fontWeight": "bold", "fontSize": 42, "color": "black"}, "encoding": {"text": {"field": "name"}}},
  {"data": {"name": "stars"}, "transform": [{"filter": "datum.p == 'B'"}], "mark": {"type": "text", "font": "Liberation Sans", "fontSize": 22, "lineBreak": "\n", "lineHeight": 12, "baseline": "middle", "color": "black"}, "encoding": {"text": {"field": "txt"}}}
 ]},
{"width": 530, "height": 333, "title": {"text": "C", "dx": -117, "dy": 42},
 "encoding": {"x": {"field": "t", "type": "quantitative", "scale": {"domain": [-240, 480], "nice": false, "zero": false}, "axis": {"title": "Time (min)", "values": [-240, -120, 0, 120, 240, 360, 480]}},
  "y": {"field": "od", "type": "quantitative", "scale": {"type": "log", "domain": [0.05, 5], "nice": false}, "axis": {"title": "OD₅₀₀", "values": [0.05,0.1,0.15,0.2,0.25,0.3,0.35,0.4,0.45,0.5,1,1.5,2,2.5,3,3.5,4,4.5,5], "labelExpr": "datum.value == 0.05 ? '0.05' : datum.value == 0.5 ? '0.5' : datum.value == 5 ? '5' : ''", "tickSize": {"condition": {"test": "datum.value == 0.05 || datum.value == 0.5 || datum.value == 5", "value": 7}, "value": 4}}}},
 "layer": [
  {"data": {"name": "err"}, "transform": [{"filter": "datum.p == 'C'"}], "mark": {"type": "errorbar", "ticks": {"size": 12, "thickness": 1.5, "color": "black"}, "rule": {"strokeWidth": 1.5, "color": "black"}}, "encoding": {"x": {"field": "t", "type": "quantitative"}, "y": {"field": "lo", "type": "quantitative"}, "y2": {"field": "hi"}}},
  {"data": {"name": "curves"}, "transform": [{"filter": "datum.p == 'C'"}], "mark": {"type": "line", "color": "black", "strokeWidth": 1.5}, "encoding": {"detail": {"field": "s"}}},
  {"data": {"name": "curves"}, "transform": [{"filter": "datum.p == 'C' && datum.s == 'WT co'"}], "mark": {"type": "point", "shape": "circle", "fill": "black"}},
  {"data": {"name": "curves"}, "transform": [{"filter": "datum.p == 'C' && datum.s == 'mhqR co'"}], "mark": {"type": "point", "shape": "triangle-up", "fill": "white"}},
  {"data": {"name": "curves"}, "transform": [{"filter": "datum.p == 'C' && datum.s != 'WT co' && indexof(datum.s, 'WT') == 0"}], "mark": {"type": "point", "shape": "circle", "fill": "white"}},
  {"data": {"name": "curves"}, "transform": [{"filter": "datum.p == 'C' && datum.s != 'mhqR co' && indexof(datum.s, 'mhqR') == 0"}], "mark": {"type": "point", "shape": "triangle-up", "fill": "white"}},
  {"data": {"name": "curves"}, "transform": [{"filter": "false"}], "mark": {"type": "point"},
   "encoding": {"shape": {"field": "s", "type": "nominal", "scale": {"domain": ["WT co", "WT cipro", "mhqR co", "mhqR cipro"], "range": ["M-3,0L-1,0M1,0L3,0M1,0A1,1,0,1,1,-1,0A1,1,0,1,1,1,0Z", "M-3,0L-1,0M1,0L3,0M1,0A1,1,0,1,1,-1,0A1,1,0,1,1,1,0Z", "M-3,0L-0.61,0M0.61,0L3,0M0,-1.05L1.1,0.85L-1.1,0.85Z", "M-3,0L-0.61,0M0.61,0L3,0M0,-1.05L1.1,0.85L-1.1,0.85Z"]}, "legend": {"title": null}},
    "fill": {"field": "s", "type": "nominal", "scale": {"domain": ["WT co", "WT cipro", "mhqR co", "mhqR cipro"], "range": ["black", "white", "black", "white"]}, "legend": null}}},
  {"data": {"name": "names"}, "transform": [{"filter": "datum.p == 'C'"}], "mark": {"type": "text", "align": "left", "baseline": "alphabetic", "font": "Liberation Sans", "fontWeight": "bold", "fontSize": 42, "color": "black"}, "encoding": {"text": {"field": "name"}}},
  {"data": {"name": "stars"}, "transform": [{"filter": "datum.p == 'C'"}], "mark": {"type": "text", "font": "Liberation Sans", "fontSize": 22, "lineBreak": "\n", "lineHeight": 12, "baseline": "middle", "color": "black"}, "encoding": {"text": {"field": "txt"}}}
 ]},
{"width": 520, "height": 319, "title": {"text": "D", "dx": -95, "dy": 54},
 "encoding": {"x": {"field": "t", "type": "quantitative", "scale": {"domain": [-240, 480], "nice": false, "zero": false}, "axis": {"title": "Time (min)", "values": [-240, -120, 0, 120, 240, 360, 480]}},
  "y": {"field": "od", "type": "quantitative", "scale": {"type": "log", "domain": [0.05, 5], "nice": false}, "axis": {"title": "OD₅₀₀", "values": [0.05,0.1,0.15,0.2,0.25,0.3,0.35,0.4,0.45,0.5,1,1.5,2,2.5,3,3.5,4,4.5,5], "labelExpr": "datum.value == 0.05 ? '0.05' : datum.value == 0.5 ? '0.5' : datum.value == 5 ? '5' : ''", "tickSize": {"condition": {"test": "datum.value == 0.05 || datum.value == 0.5 || datum.value == 5", "value": 7}, "value": 4}}}},
 "layer": [
  {"data": {"name": "err"}, "transform": [{"filter": "datum.p == 'D'"}], "mark": {"type": "errorbar", "ticks": {"size": 12, "thickness": 1.5, "color": "black"}, "rule": {"strokeWidth": 1.5, "color": "black"}}, "encoding": {"x": {"field": "t", "type": "quantitative"}, "y": {"field": "lo", "type": "quantitative"}, "y2": {"field": "hi"}}},
  {"data": {"name": "curves"}, "transform": [{"filter": "datum.p == 'D'"}], "mark": {"type": "line", "color": "black", "strokeWidth": 1.5}, "encoding": {"detail": {"field": "s"}}},
  {"data": {"name": "curves"}, "transform": [{"filter": "datum.p == 'D' && datum.s == 'WT co'"}], "mark": {"type": "point", "shape": "circle", "fill": "black"}},
  {"data": {"name": "curves"}, "transform": [{"filter": "datum.p == 'D' && datum.s == 'mhqR co'"}], "mark": {"type": "point", "shape": "triangle-up", "fill": "black"}},
  {"data": {"name": "curves"}, "transform": [{"filter": "datum.p == 'D' && datum.s != 'WT co' && indexof(datum.s, 'WT') == 0"}], "mark": {"type": "point", "shape": "circle", "fill": "white"}},
  {"data": {"name": "curves"}, "transform": [{"filter": "datum.p == 'D' && datum.s != 'mhqR co' && indexof(datum.s, 'mhqR') == 0"}], "mark": {"type": "point", "shape": "triangle-up", "fill": "white"}},
  {"data": {"name": "curves"}, "transform": [{"filter": "false"}], "mark": {"type": "point"},
   "encoding": {"shape": {"field": "s", "type": "nominal", "scale": {"domain": ["WT co", "WT rif", "mhqR co", "mhqR rif"], "range": ["M-3,0L-1,0M1,0L3,0M1,0A1,1,0,1,1,-1,0A1,1,0,1,1,1,0Z", "M-3,0L-1,0M1,0L3,0M1,0A1,1,0,1,1,-1,0A1,1,0,1,1,1,0Z", "M-3,0L-0.61,0M0.61,0L3,0M0,-1.05L1.1,0.85L-1.1,0.85Z", "M-3,0L-0.61,0M0.61,0L3,0M0,-1.05L1.1,0.85L-1.1,0.85Z"]}, "legend": {"title": null}},
    "fill": {"field": "s", "type": "nominal", "scale": {"domain": ["WT co", "WT rif", "mhqR co", "mhqR rif"], "range": ["black", "white", "black", "white"]}, "legend": null}}},
  {"data": {"name": "names"}, "transform": [{"filter": "datum.p == 'D'"}], "mark": {"type": "text", "align": "left", "baseline": "alphabetic", "font": "Liberation Sans", "fontWeight": "bold", "fontSize": 42, "color": "black"}, "encoding": {"text": {"field": "name"}}},
  {"data": {"name": "stars"}, "transform": [{"filter": "datum.p == 'D'"}], "mark": {"type": "text", "font": "Liberation Sans", "fontSize": 22, "lineBreak": "\n", "lineHeight": 12, "baseline": "middle", "color": "black"}, "encoding": {"text": {"field": "txt"}}}
 ]},
{"width": 518, "height": 322, "title": {"text": "E", "dx": -116, "dy": 57},
 "encoding": {"x": {"field": "t", "type": "quantitative", "scale": {"domain": [-240, 480], "nice": false, "zero": false}, "axis": {"title": "Time (min)", "values": [-240, -120, 0, 120, 240, 360, 480]}},
  "y": {"field": "od", "type": "quantitative", "scale": {"type": "log", "domain": [0.05, 5], "nice": false}, "axis": {"title": "OD₅₀₀", "values": [0.05,0.1,0.15,0.2,0.25,0.3,0.35,0.4,0.45,0.5,1,1.5,2,2.5,3,3.5,4,4.5,5], "labelExpr": "datum.value == 0.05 ? '0.05' : datum.value == 0.5 ? '0.5' : datum.value == 5 ? '5' : ''", "tickSize": {"condition": {"test": "datum.value == 0.05 || datum.value == 0.5 || datum.value == 5", "value": 7}, "value": 4}}}},
 "layer": [
  {"data": {"name": "err"}, "transform": [{"filter": "datum.p == 'E'"}], "mark": {"type": "errorbar", "ticks": {"size": 12, "thickness": 1.5, "color": "black"}, "rule": {"strokeWidth": 1.5, "color": "black"}}, "encoding": {"x": {"field": "t", "type": "quantitative"}, "y": {"field": "lo", "type": "quantitative"}, "y2": {"field": "hi"}}},
  {"data": {"name": "curves"}, "transform": [{"filter": "datum.p == 'E'"}], "mark": {"type": "line", "color": "black", "strokeWidth": 1.5}, "encoding": {"detail": {"field": "s"}}},
  {"data": {"name": "curves"}, "transform": [{"filter": "datum.p == 'E' && datum.s == 'WT co'"}], "mark": {"type": "point", "shape": "circle", "fill": "black"}},
  {"data": {"name": "curves"}, "transform": [{"filter": "datum.p == 'E' && datum.s == 'mhqR co'"}], "mark": {"type": "point", "shape": "triangle-up", "fill": "black"}},
  {"data": {"name": "curves"}, "transform": [{"filter": "datum.p == 'E' && datum.s != 'WT co' && indexof(datum.s, 'WT') == 0"}], "mark": {"type": "point", "shape": "circle", "fill": "white"}},
  {"data": {"name": "curves"}, "transform": [{"filter": "datum.p == 'E' && datum.s != 'mhqR co' && indexof(datum.s, 'mhqR') == 0"}], "mark": {"type": "point", "shape": "triangle-up", "fill": "white"}},
  {"data": {"name": "curves"}, "transform": [{"filter": "false"}], "mark": {"type": "point"},
   "encoding": {"shape": {"field": "s", "type": "nominal", "scale": {"domain": ["WT co", "WT nor", "mhqR co", "mhqR nor"], "range": ["M-3,0L-1,0M1,0L3,0M1,0A1,1,0,1,1,-1,0A1,1,0,1,1,1,0Z", "M-3,0L-1,0M1,0L3,0M1,0A1,1,0,1,1,-1,0A1,1,0,1,1,1,0Z", "M-3,0L-0.61,0M0.61,0L3,0M0,-1.05L1.1,0.85L-1.1,0.85Z", "M-3,0L-0.61,0M0.61,0L3,0M0,-1.05L1.1,0.85L-1.1,0.85Z"]}, "legend": {"title": null}},
    "fill": {"field": "s", "type": "nominal", "scale": {"domain": ["WT co", "WT nor", "mhqR co", "mhqR nor"], "range": ["black", "white", "black", "white"]}, "legend": null}}},
  {"data": {"name": "names"}, "transform": [{"filter": "datum.p == 'E'"}], "mark": {"type": "text", "align": "left", "baseline": "alphabetic", "font": "Liberation Sans", "fontWeight": "bold", "fontSize": 42, "color": "black"}, "encoding": {"text": {"field": "name"}}},
  {"data": {"name": "stars"}, "transform": [{"filter": "datum.p == 'E'"}], "mark": {"type": "text", "font": "Liberation Sans", "fontSize": 22, "lineBreak": "\n", "lineHeight": 12, "baseline": "middle", "color": "black"}, "encoding": {"text": {"field": "txt"}}}
 ]},
{"width": 536, "height": 342, "title": {"text": "F", "dx": -109, "dy": 52},
 "encoding": {"x": {"field": "t", "type": "quantitative", "scale": {"domain": [-240, 480], "nice": false, "zero": false}, "axis": {"title": "Time (min)", "values": [-240, -120, 0, 120, 240, 360, 480]}},
  "y": {"field": "od", "type": "quantitative", "scale": {"type": "log", "domain": [0.05, 5], "nice": false}, "axis": {"title": "OD₅₀₀", "values": [0.05,0.1,0.15,0.2,0.25,0.3,0.35,0.4,0.45,0.5,1,1.5,2,2.5,3,3.5,4,4.5,5], "labelExpr": "datum.value == 0.05 ? '0.05' : datum.value == 0.5 ? '0.5' : datum.value == 5 ? '5' : ''", "tickSize": {"condition": {"test": "datum.value == 0.05 || datum.value == 0.5 || datum.value == 5", "value": 7}, "value": 4}}}},
 "layer": [
  {"data": {"name": "err"}, "transform": [{"filter": "datum.p == 'F'"}], "mark": {"type": "errorbar", "ticks": {"size": 12, "thickness": 1.5, "color": "black"}, "rule": {"strokeWidth": 1.5, "color": "black"}}, "encoding": {"x": {"field": "t", "type": "quantitative"}, "y": {"field": "lo", "type": "quantitative"}, "y2": {"field": "hi"}}},
  {"data": {"name": "curves"}, "transform": [{"filter": "datum.p == 'F'"}], "mark": {"type": "line", "color": "black", "strokeWidth": 1.5}, "encoding": {"detail": {"field": "s"}}},
  {"data": {"name": "curves"}, "transform": [{"filter": "datum.p == 'F' && datum.s == 'WT co'"}], "mark": {"type": "point", "shape": "circle", "fill": "black"}},
  {"data": {"name": "curves"}, "transform": [{"filter": "datum.p == 'F' && datum.s == 'mhqR co'"}], "mark": {"type": "point", "shape": "triangle-up", "fill": "black"}},
  {"data": {"name": "curves"}, "transform": [{"filter": "datum.p == 'F' && datum.s != 'WT co' && indexof(datum.s, 'WT') == 0"}], "mark": {"type": "point", "shape": "circle", "fill": "white"}},
  {"data": {"name": "curves"}, "transform": [{"filter": "datum.p == 'F' && datum.s != 'mhqR co' && indexof(datum.s, 'mhqR') == 0"}], "mark": {"type": "point", "shape": "triangle-up", "fill": "white"}},
  {"data": {"name": "curves"}, "transform": [{"filter": "false"}], "mark": {"type": "point"},
   "encoding": {"shape": {"field": "s", "type": "nominal", "scale": {"domain": ["WT co", "WT lap", "mhqR co", "mhqR lap"], "range": ["M-3,0L-1,0M1,0L3,0M1,0A1,1,0,1,1,-1,0A1,1,0,1,1,1,0Z", "M-3,0L-1,0M1,0L3,0M1,0A1,1,0,1,1,-1,0A1,1,0,1,1,1,0Z", "M-3,0L-0.61,0M0.61,0L3,0M0,-1.05L1.1,0.85L-1.1,0.85Z", "M-3,0L-0.61,0M0.61,0L3,0M0,-1.05L1.1,0.85L-1.1,0.85Z"]}, "legend": {"title": null}},
    "fill": {"field": "s", "type": "nominal", "scale": {"domain": ["WT co", "WT lap", "mhqR co", "mhqR lap"], "range": ["black", "white", "black", "white"]}, "legend": null}}},
  {"data": {"name": "names"}, "transform": [{"filter": "datum.p == 'F'"}], "mark": {"type": "text", "align": "left", "baseline": "alphabetic", "font": "Liberation Sans", "fontWeight": "bold", "fontSize": 42, "color": "black"}, "encoding": {"text": {"field": "name"}}},
  {"data": {"name": "stars"}, "transform": [{"filter": "datum.p == 'F'"}], "mark": {"type": "text", "font": "Liberation Sans", "fontSize": 22, "lineBreak": "\n", "lineHeight": 12, "baseline": "middle", "color": "black"}, "encoding": {"text": {"field": "txt"}}}
 ]},
{"width": 543, "height": 331, "title": {"text": "G", "dx": -105, "dy": 54},
 "encoding": {"x": {"field": "t", "type": "quantitative", "scale": {"domain": [-240, 480], "nice": false, "zero": false}, "axis": {"title": "Time (min)", "values": [-240, -120, 0, 120, 240, 360, 480]}},
  "y": {"field": "od", "type": "quantitative", "scale": {"type": "log", "domain": [0.05, 5], "nice": false}, "axis": {"title": "OD₅₀₀", "values": [0.05,0.1,0.15,0.2,0.25,0.3,0.35,0.4,0.45,0.5,1,1.5,2,2.5,3,3.5,4,4.5,5], "labelExpr": "datum.value == 0.05 ? '0.05' : datum.value == 0.5 ? '0.5' : datum.value == 5 ? '5' : ''", "tickSize": {"condition": {"test": "datum.value == 0.05 || datum.value == 0.5 || datum.value == 5", "value": 7}, "value": 4}}}},
 "layer": [
  {"data": {"name": "err"}, "transform": [{"filter": "datum.p == 'G'"}], "mark": {"type": "errorbar", "ticks": {"size": 12, "thickness": 1.5, "color": "black"}, "rule": {"strokeWidth": 1.5, "color": "black"}}, "encoding": {"x": {"field": "t", "type": "quantitative"}, "y": {"field": "lo", "type": "quantitative"}, "y2": {"field": "hi"}}},
  {"data": {"name": "curves"}, "transform": [{"filter": "datum.p == 'G'"}], "mark": {"type": "line", "color": "black", "strokeWidth": 1.5}, "encoding": {"detail": {"field": "s"}}},
  {"data": {"name": "curves"}, "transform": [{"filter": "datum.p == 'G' && datum.s == 'WT co'"}], "mark": {"type": "point", "shape": "circle", "fill": "black"}},
  {"data": {"name": "curves"}, "transform": [{"filter": "datum.p == 'G' && datum.s == 'mhqR co'"}], "mark": {"type": "point", "shape": "triangle-up", "fill": "black"}},
  {"data": {"name": "curves"}, "transform": [{"filter": "datum.p == 'G' && datum.s != 'WT co' && indexof(datum.s, 'WT') == 0"}], "mark": {"type": "point", "shape": "circle", "fill": "white"}},
  {"data": {"name": "curves"}, "transform": [{"filter": "datum.p == 'G' && datum.s != 'mhqR co' && indexof(datum.s, 'mhqR') == 0"}], "mark": {"type": "point", "shape": "triangle-up", "fill": "white"}},
  {"data": {"name": "curves"}, "transform": [{"filter": "false"}], "mark": {"type": "point"},
   "encoding": {"shape": {"field": "s", "type": "nominal", "scale": {"domain": ["WT co", "WT H₂O₂", "mhqR co", "mhqR H₂O₂"], "range": ["M-3,0L-1,0M1,0L3,0M1,0A1,1,0,1,1,-1,0A1,1,0,1,1,1,0Z", "M-3,0L-1,0M1,0L3,0M1,0A1,1,0,1,1,-1,0A1,1,0,1,1,1,0Z", "M-3,0L-0.61,0M0.61,0L3,0M0,-1.05L1.1,0.85L-1.1,0.85Z", "M-3,0L-0.61,0M0.61,0L3,0M0,-1.05L1.1,0.85L-1.1,0.85Z"]}, "legend": {"title": null}},
    "fill": {"field": "s", "type": "nominal", "scale": {"domain": ["WT co", "WT H₂O₂", "mhqR co", "mhqR H₂O₂"], "range": ["black", "white", "black", "white"]}, "legend": null}}},
  {"data": {"name": "names"}, "transform": [{"filter": "datum.p == 'G'"}], "mark": {"type": "text", "align": "left", "baseline": "alphabetic", "font": "Liberation Sans", "fontWeight": "bold", "fontSize": 42, "color": "black"}, "encoding": {"text": {"field": "name"}}},
  {"data": {"name": "stars"}, "transform": [{"filter": "datum.p == 'G'"}], "mark": {"type": "text", "font": "Liberation Sans", "fontSize": 22, "lineBreak": "\n", "lineHeight": 12, "baseline": "middle", "color": "black"}, "encoding": {"text": {"field": "txt"}}}
 ]},
{"width": 525, "height": 331, "title": {"text": "H", "dx": -111, "dy": 58},
 "encoding": {"x": {"field": "t", "type": "quantitative", "scale": {"domain": [-240, 480], "nice": false, "zero": false}, "axis": {"title": "Time (min)", "values": [-240, -120, 0, 120, 240, 360, 480]}},
  "y": {"field": "od", "type": "quantitative", "scale": {"type": "log", "domain": [0.05, 5], "nice": false}, "axis": {"title": "OD₅₀₀", "values": [0.05,0.1,0.15,0.2,0.25,0.3,0.35,0.4,0.45,0.5,1,1.5,2,2.5,3,3.5,4,4.5,5], "labelExpr": "datum.value == 0.05 ? '0.05' : datum.value == 0.5 ? '0.5' : datum.value == 5 ? '5' : ''", "tickSize": {"condition": {"test": "datum.value == 0.05 || datum.value == 0.5 || datum.value == 5", "value": 7}, "value": 4}}}},
 "layer": [
  {"data": {"name": "err"}, "transform": [{"filter": "datum.p == 'H'"}], "mark": {"type": "errorbar", "ticks": {"size": 12, "thickness": 1.5, "color": "black"}, "rule": {"strokeWidth": 1.5, "color": "black"}}, "encoding": {"x": {"field": "t", "type": "quantitative"}, "y": {"field": "lo", "type": "quantitative"}, "y2": {"field": "hi"}}},
  {"data": {"name": "curves"}, "transform": [{"filter": "datum.p == 'H'"}], "mark": {"type": "line", "color": "black", "strokeWidth": 1.5}, "encoding": {"detail": {"field": "s"}}},
  {"data": {"name": "curves"}, "transform": [{"filter": "datum.p == 'H' && datum.s == 'WT co'"}], "mark": {"type": "point", "shape": "circle", "fill": "black"}},
  {"data": {"name": "curves"}, "transform": [{"filter": "datum.p == 'H' && datum.s == 'mhqR co'"}], "mark": {"type": "point", "shape": "triangle-up", "fill": "black"}},
  {"data": {"name": "curves"}, "transform": [{"filter": "datum.p == 'H' && datum.s != 'WT co' && indexof(datum.s, 'WT') == 0"}], "mark": {"type": "point", "shape": "circle", "fill": "white"}},
  {"data": {"name": "curves"}, "transform": [{"filter": "datum.p == 'H' && datum.s != 'mhqR co' && indexof(datum.s, 'mhqR') == 0"}], "mark": {"type": "point", "shape": "triangle-up", "fill": "white"}},
  {"data": {"name": "curves"}, "transform": [{"filter": "false"}], "mark": {"type": "point"},
   "encoding": {"shape": {"field": "s", "type": "nominal", "scale": {"domain": ["WT co", "WT NaOCl", "mhqR co", "mhqR NaOCl"], "range": ["M-3,0L-1,0M1,0L3,0M1,0A1,1,0,1,1,-1,0A1,1,0,1,1,1,0Z", "M-3,0L-1,0M1,0L3,0M1,0A1,1,0,1,1,-1,0A1,1,0,1,1,1,0Z", "M-3,0L-0.61,0M0.61,0L3,0M0,-1.05L1.1,0.85L-1.1,0.85Z", "M-3,0L-0.61,0M0.61,0L3,0M0,-1.05L1.1,0.85L-1.1,0.85Z"]}, "legend": {"title": null}},
    "fill": {"field": "s", "type": "nominal", "scale": {"domain": ["WT co", "WT NaOCl", "mhqR co", "mhqR NaOCl"], "range": ["black", "white", "black", "white"]}, "legend": null}}},
  {"data": {"name": "names"}, "transform": [{"filter": "datum.p == 'H'"}], "mark": {"type": "text", "align": "left", "baseline": "alphabetic", "font": "Liberation Sans", "fontWeight": "bold", "fontSize": 42, "color": "black"}, "encoding": {"text": {"field": "name"}}},
  {"data": {"name": "stars"}, "transform": [{"filter": "datum.p == 'H'"}], "mark": {"type": "text", "font": "Liberation Sans", "fontSize": 22, "lineBreak": "\n", "lineHeight": 12, "baseline": "middle", "color": "black"}, "encoding": {"text": {"field": "txt"}}}
 ]},
{"width": 560, "height": 360, "view": {"stroke": null},
 "data": {"name": "caption"},
 "encoding": {"y": {"field": "line", "type": "ordinal", "axis": null, "scale": {"padding": 0.8}}, "x": {"value": 0}, "text": {"field": "text"}},
 "layer": [
  {"transform": [{"filter": "datum.line <= 2 || (datum.line == 3 && datum.seg == 1)"}], "mark": {"type": "text", "align": "left", "baseline": "middle", "font": "Lato", "fontWeight": "bold", "fontSize": 32, "color": "black", "dx": -93}},
  {"transform": [{"filter": "datum.line == 3 && datum.seg == 2"}], "mark": {"type": "text", "align": "left", "baseline": "middle", "font": "Lato", "fontSize": 32, "color": "black", "dx": 0}},
  {"transform": [{"filter": "datum.line >= 4"}], "mark": {"type": "text", "align": "left", "baseline": "middle", "font": "Lato", "fontSize": 32, "color": "black", "dx": -93}}
 ]}
]
}
